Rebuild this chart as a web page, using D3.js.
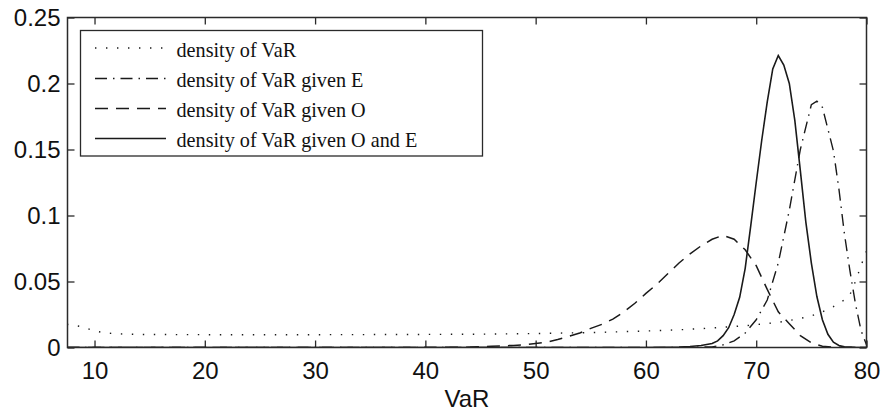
<!DOCTYPE html>
<html>
<head>
<meta charset="utf-8">
<script src="https://cdn.jsdelivr.net/npm/d3@7"></script>
<style>
  html, body { margin: 0; padding: 0; background: #fff; }
  svg { display: block; }
  .tick text { font-family: "Liberation Sans", Arial, sans-serif; }
</style>
</head>
<body>
<div id="chart"></div>
<script>
// ---------- data ----------
const xTicks = [10, 20, 30, 40, 50, 60, 70, 80];
const yTicks = [0, 0.05, 0.1, 0.15, 0.2, 0.25];
const yTickLabels = ["0", "0.05", "0.1", "0.15", "0.2", "0.25"];
const xDomain = [7.55, 80];
const yDomain = [0, 0.25];

const legendLabels = [
  "density of VaR",
  "density of VaR given E",
  "density of VaR given O",
  "density of VaR given O and E"
];

// density of VaR (dotted)
const varX = [7.5, 8, 9, 10, 11, 12, 14, 20, 30, 40, 45, 50, 55, 60, 63, 66, 69, 72, 74, 75, 76, 77, 78, 78.5, 79, 79.5, 80];
const varY = [0.0175, 0.017, 0.0155, 0.0125, 0.011, 0.0104, 0.0099, 0.0097, 0.0097, 0.0099, 0.0101, 0.0106, 0.0113, 0.0125, 0.0134, 0.0148, 0.0165, 0.019, 0.022, 0.024, 0.027, 0.031, 0.036, 0.040, 0.050, 0.062, 0.073];

// density of VaR given E (dash-dot)
const eX = [7.5, 40, 60, 64, 66, 67, 68, 69, 70, 71, 72, 73, 74, 75, 75.5, 76, 77, 77.5, 78, 78.5, 79, 79.5, 80];
const eY = [0, 0, 0, 0.0001, 0.0005, 0.002, 0.005, 0.011, 0.021, 0.036, 0.064, 0.104, 0.150, 0.184, 0.1867, 0.182, 0.149, 0.12, 0.086, 0.058, 0.033, 0.013, 0.002];

// density of VaR given O (dashed)
const oX = [7.5, 40, 44, 46, 48, 49, 50, 51, 52, 53, 54, 55, 56, 57, 58, 59, 60, 61, 62, 63, 64, 65, 66, 67, 68, 69, 70, 71, 72, 73, 74, 75, 76, 77, 78, 80];
const oY = [0, 0, 0.0003, 0.0009, 0.0016, 0.002, 0.003, 0.004, 0.006, 0.0085, 0.011, 0.0145, 0.0175, 0.0215, 0.027, 0.0335, 0.041, 0.048, 0.056, 0.064, 0.071, 0.077, 0.082, 0.085, 0.082, 0.074, 0.062, 0.044, 0.027, 0.018, 0.009, 0.0035, 0.001, 0.0003, 0, 0];

// density of VaR given O and E (solid)
const oeX = [7.5, 40, 60, 62, 63, 64, 65, 66, 66.5, 67, 67.5, 68, 68.5, 69, 69.5, 70, 70.5, 71, 71.5, 72, 72.5, 73, 73.5, 74, 74.5, 75, 75.5, 76, 76.5, 77, 77.5, 78, 79, 80];
const oeY = [0, 0, 0, 0.0002, 0.0004, 0.0008, 0.0015, 0.003, 0.005, 0.009, 0.015, 0.025, 0.038, 0.060, 0.092, 0.125, 0.157, 0.186, 0.211, 0.2212, 0.214, 0.200, 0.172, 0.134, 0.095, 0.064, 0.0386, 0.021, 0.010, 0.004, 0.0015, 0.0005, 0.0001, 0];

// ---------- layout ----------
const W = 881, H = 417;
const mLeft = 67.5, mRight = 866.5, mTop = 17.5, mBottom = 347.5;

const svg = d3.select("#chart").append("svg").attr("width", W).attr("height", H);

const x = d3.scaleLinear().domain(xDomain).range([mLeft, mRight]);
const y = d3.scaleLinear().domain(yDomain).range([mBottom, mTop]);

svg.append("defs").append("clipPath").attr("id", "clip")
  .append("rect").attr("x", mLeft).attr("y", mTop - 2).attr("width", mRight - mLeft).attr("height", mBottom - mTop + 2);

const ink = "#1a1a1a";
const axisColor = "#2a2a2a";
const tickLen = 7;

// axes
const xAxisB = d3.axisBottom(x).tickValues(xTicks).tickSizeInner(-tickLen).tickSizeOuter(0).tickPadding(14).tickFormat(d3.format("d"));
const xAxisT = d3.axisTop(x).tickValues(xTicks).tickSizeInner(-tickLen).tickSizeOuter(0).tickFormat("");
const yAxisL = d3.axisLeft(y).tickValues(yTicks).tickSizeInner(-tickLen).tickSizeOuter(0).tickPadding(7).tickFormat((d, i) => yTickLabels[i]);
const yAxisR = d3.axisRight(y).tickValues(yTicks).tickSizeInner(-tickLen).tickSizeOuter(0).tickFormat("");

function style(g) {
  g.select(".domain").remove();
  g.selectAll(".tick line").attr("stroke", axisColor).attr("stroke-width", 1.3);
  g.selectAll(".tick text").attr("fill", "#111").attr("font-size", 24);
}
svg.append("g").attr("transform", `translate(0,${mBottom})`).call(xAxisB).call(style);
svg.append("g").attr("transform", `translate(0,${mTop})`).call(xAxisT).call(style);
svg.append("g").attr("transform", `translate(${mLeft},0)`).call(yAxisL).call(style);
svg.append("g").attr("transform", `translate(${mRight},0)`).call(yAxisR).call(style);

// series
const series = [
  { xs: varX, ys: varY, dash: "1.4,9.6", width: 1.4 },
  { xs: eX, ys: eY, dash: "12,6,1.5,6", width: 1.4 },
  { xs: oX, ys: oY, dash: "13,8", width: 1.5 },
  { xs: oeX, ys: oeY, dash: null, width: 1.6 }
];

const line = d3.line().x(d => x(d[0])).y(d => y(d[1]));
const plot = svg.append("g").attr("clip-path", "url(#clip)");
series.forEach(s => {
  const pts = s.xs.map((v, i) => [v, s.ys[i]]);
  plot.append("path").datum(pts)
    .attr("d", line)
    .attr("fill", "none")
    .attr("stroke", ink)
    .attr("stroke-width", s.width)
    .attr("stroke-dasharray", s.dash);
});

// box
svg.append("rect").attr("x", mLeft).attr("y", mTop).attr("width", mRight - mLeft).attr("height", mBottom - mTop)
  .attr("fill", "none").attr("stroke", axisColor).attr("stroke-width", 1.5);

// x axis title
svg.append("text").attr("x", (mLeft + mRight) / 2).attr("y", 407)
  .attr("text-anchor", "middle").attr("font-family", "Liberation Sans, Arial, sans-serif")
  .attr("font-size", 24).attr("fill", "#111").text("VaR");

// legend
const lg = svg.append("g");
lg.append("rect").attr("x", 80.5).attr("y", 30.5).attr("width", 402).attr("height", 125.5)
  .attr("fill", "#fff").attr("stroke", axisColor).attr("stroke-width", 1.3);
const rowY = [48, 78.5, 108.5, 138.5];
series.forEach((s, i) => {
  lg.append("line").attr("x1", 95).attr("x2", 166).attr("y1", rowY[i]).attr("y2", rowY[i])
    .attr("stroke", ink).attr("stroke-width", s.width).attr("stroke-dasharray", s.dash);
  lg.append("text").attr("x", 176.5).attr("y", rowY[i] + 8.5)
    .attr("font-family", "Liberation Serif, Times New Roman, serif").attr("font-size", 20.2)
    .attr("fill", "#111").text(legendLabels[i]);
});
</script>
</body>
</html>
